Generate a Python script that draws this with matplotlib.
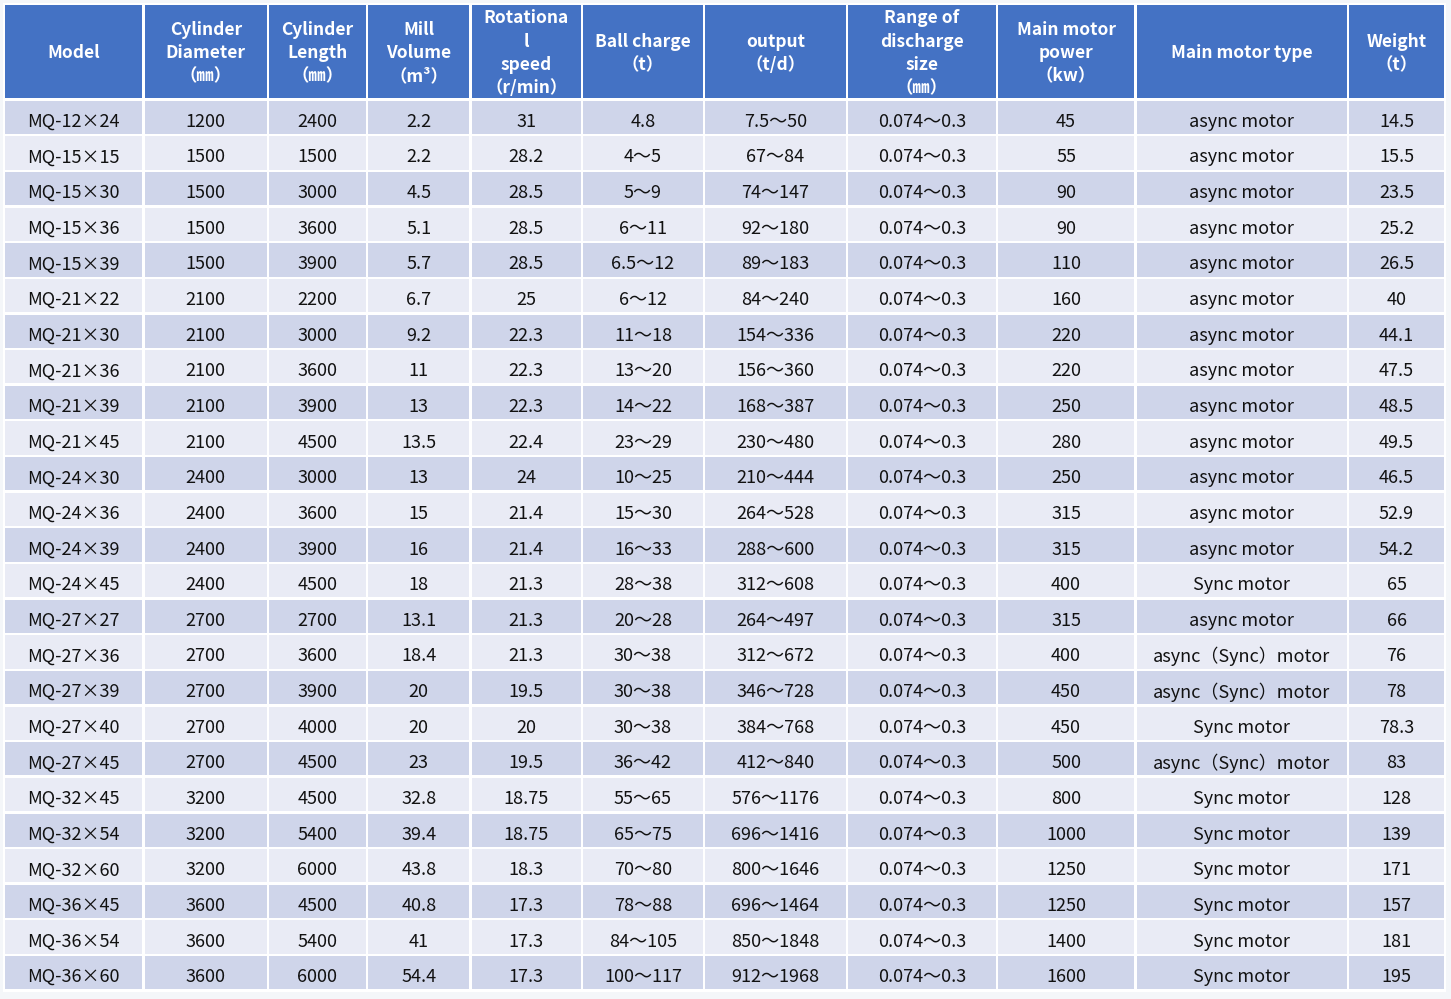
import matplotlib
matplotlib.use("Agg")
import matplotlib.pyplot as plt
from matplotlib.patches import Rectangle

plt.rcParams['font.family'] = ['Noto Sans CJK SC', 'DejaVu Sans']

# table content
headers = ["Model", "Cylinder\nDiameter\n（㎜）", "Cylinder\nLength\n（㎜）", "Mill\nVolume\n（m³）",
           "Rotationa\nl\nspeed\n（r/min）", "Ball charge\n（t）", "output\n（t/d）",
           "Range of\ndischarge\nsize\n（㎜）", "Main motor\npower\n（kw）", "Main motor type", "Weight\n（t）"]

models = ["MQ-12×24", "MQ-15×15", "MQ-15×30", "MQ-15×36", "MQ-15×39", "MQ-21×22", "MQ-21×30",
          "MQ-21×36", "MQ-21×39", "MQ-21×45", "MQ-24×30", "MQ-24×36", "MQ-24×39", "MQ-24×45",
          "MQ-27×27", "MQ-27×36", "MQ-27×39", "MQ-27×40", "MQ-27×45", "MQ-32×45", "MQ-32×54",
          "MQ-32×60", "MQ-36×45", "MQ-36×54", "MQ-36×60"]
diameter = ["1200", "1500", "1500", "1500", "1500", "2100", "2100", "2100", "2100", "2100", "2400",
            "2400", "2400", "2400", "2700", "2700", "2700", "2700", "2700", "3200", "3200", "3200",
            "3600", "3600", "3600"]
length = ["2400", "1500", "3000", "3600", "3900", "2200", "3000", "3600", "3900", "4500", "3000",
          "3600", "3900", "4500", "2700", "3600", "3900", "4000", "4500", "4500", "5400", "6000",
          "4500", "5400", "6000"]
volume = ["2.2", "2.2", "4.5", "5.1", "5.7", "6.7", "9.2", "11", "13", "13.5", "13", "15", "16",
          "18", "13.1", "18.4", "20", "20", "23", "32.8", "39.4", "43.8", "40.8", "41", "54.4"]
speed = ["31", "28.2", "28.5", "28.5", "28.5", "25", "22.3", "22.3", "22.3", "22.4", "24", "21.4",
         "21.4", "21.3", "21.3", "21.3", "19.5", "20", "19.5", "18.75", "18.75", "18.3", "17.3",
         "17.3", "17.3"]
ball_charge = ["4.8", "4～5", "5～9", "6～11", "6.5～12", "6～12", "11～18", "13～20", "14～22",
               "23～29", "10～25", "15～30", "16～33", "28～38", "20～28", "30～38", "30～38", "30～38",
               "36～42", "55～65", "65～75", "70～80", "78～88", "84～105", "100～117"]
output = ["7.5～50", "67～84", "74～147", "92～180", "89～183", "84～240", "154～336", "156～360",
          "168～387", "230～480", "210～444", "264～528", "288～600", "312～608", "264～497",
          "312～672", "346～728", "384～768", "412～840", "576～1176", "696～1416", "800～1646",
          "696～1464", "850～1848", "912～1968"]
discharge = ["0.074～0.3"] * 25
power = ["45", "55", "90", "90", "110", "160", "220", "220", "250", "280", "250", "315", "315",
         "400", "315", "400", "450", "450", "500", "800", "1000", "1250", "1250", "1400", "1600"]
motor_type = ["async motor"] * 13 + ["Sync motor", "async motor", "async（Sync）motor",
              "async（Sync）motor", "Sync motor", "async（Sync）motor"] + ["Sync motor"] * 6
weight = ["14.5", "15.5", "23.5", "25.2", "26.5", "40", "44.1", "47.5", "48.5", "49.5", "46.5",
          "52.9", "54.2", "65", "66", "76", "78", "78.3", "83", "128", "139", "171", "157", "181", "195"]

columns = [models, diameter, length, volume, speed, ball_charge, output, discharge, power,
           motor_type, weight]

# layout (pixels)
col_edges = [4, 143.5, 268, 367, 470.5, 582, 704, 847, 996.7, 1135.5, 1348, 1445]
head_top, head_bot = 4, 99.5
body_bot = 990.5
gap = 2.4
n_rows = len(models)
row_h = (body_bot - head_bot) / n_rows

HEAD = '#4472C4'
ODD = '#CFD5EA'
EVEN = '#E9EBF5'

fig = plt.figure(figsize=(14.51, 9.99), dpi=100, facecolor='#F4F6F9')
ax = fig.add_axes([0, 0, 1, 1])
ax.set_xlim(0, 1451)
ax.set_ylim(999, 0)
ax.axis('off')

ax.add_patch(Rectangle((col_edges[0] - 1, head_top - 1), col_edges[-1] - col_edges[0] + 2,
                       body_bot - head_top + 2, facecolor='white', edgecolor='none'))

for j in range(len(headers)):
    x0 = col_edges[j] + gap / 2
    w = col_edges[j + 1] - col_edges[j] - gap
    xc = (col_edges[j] + col_edges[j + 1]) / 2
    ax.add_patch(Rectangle((x0, head_top + gap / 2), w, head_bot - head_top - gap,
                           facecolor=HEAD, edgecolor='none'))
    ax.text(xc, (head_top + head_bot) / 2 + 1.5, headers[j], ha='center', va='center',
            color='white', fontsize=12.5, fontweight='bold', linespacing=1.38)
    for i in range(n_rows):
        y0 = head_bot + i * row_h
        ax.add_patch(Rectangle((x0, y0 + gap / 2), w, row_h - gap,
                               facecolor=ODD if i % 2 == 0 else EVEN, edgecolor='none'))
        ax.text(xc, y0 + row_h / 2 + 4.5, columns[j][i], ha='center', va='center',
                color='#111111', fontsize=13)

fig.savefig('out.png', dpi=100, facecolor=fig.get_facecolor())
